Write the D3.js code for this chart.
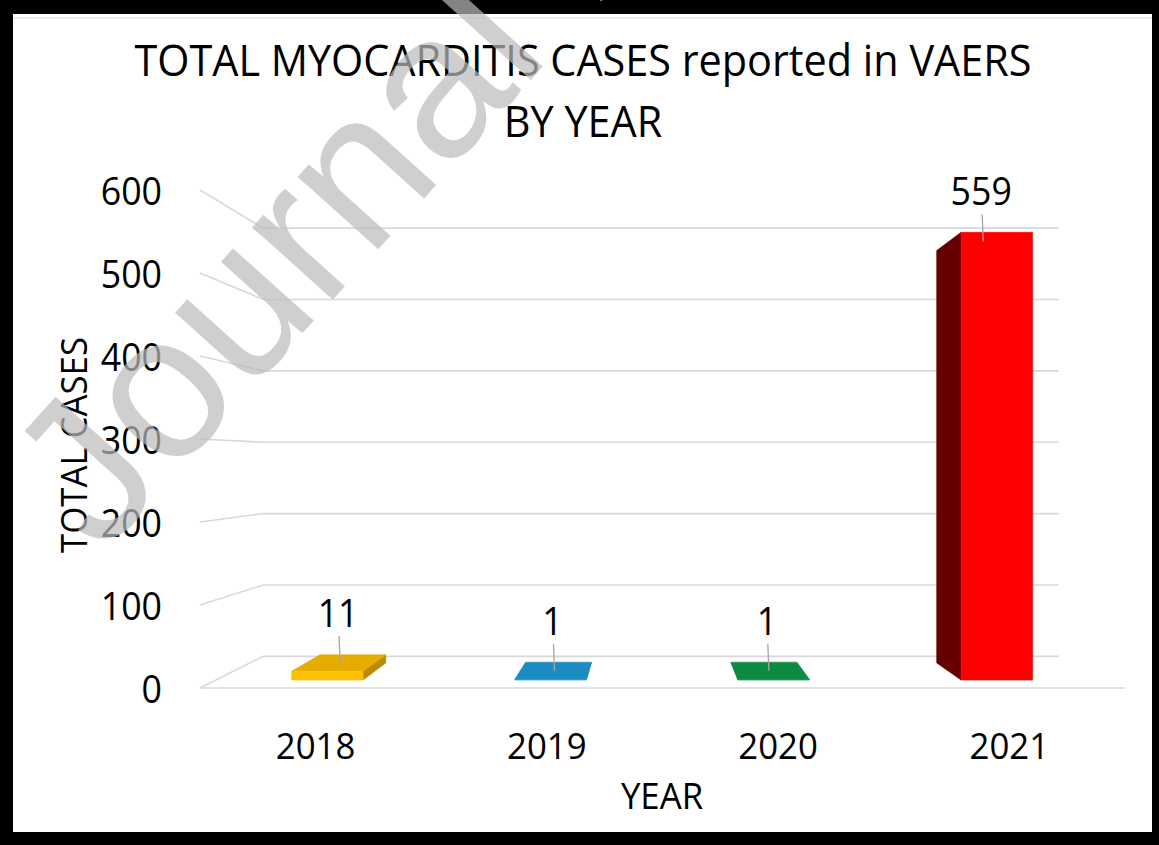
<!DOCTYPE html>
<html>
<head>
<meta charset="utf-8">
<script src="https://cdn.jsdelivr.net/npm/d3@7"></script>
<style>
  html, body { margin: 0; padding: 0; background: #000; }
  svg { display: block; }
  text { font-family: "Open Sans", sans-serif; font-weight: 500; }
</style>
</head>
<body>
<div id="chart"></div>
<script>
const years = ["2018", "2019", "2020", "2021"];
const cases = [11, 1, 1, 559];
const yTicks = [0, 100, 200, 300, 400, 500, 600];
const titleLines = ["TOTAL MYOCARDITIS CASES reported in VAERS", "BY YEAR"];
const xTitle = "YEAR";
const yTitle = "TOTAL CASES";
const watermark = "Journal Pre-proof";

const barColors = ["#FFC000", "#1E9CD8", "#0E9B4B", "#FF0000"];
const gridColor = "#d9d9d9";
const squeeze = 0.94; // narrow the glyphs a bit, the original font is a condensed one

const width = 1159, height = 845;

const svg = d3
  .select("#chart")
  .append("svg")
  .attr("width", width)
  .attr("height", height);

// black frame + white page
svg.append("rect").attr("width", width).attr("height", height).attr("fill", "#000");
svg
  .append("rect")
  .attr("x", 13)
  .attr("y", 14)
  .attr("width", 1139)
  .attr("height", 818)
  .attr("fill", "#fff");
svg
  .append("line")
  .attr("x1", 13)
  .attr("x2", 1152)
  .attr("y1", 18)
  .attr("y2", 18)
  .attr("stroke", "#ececec")
  .attr("stroke-width", 2);

// scales on the front plane of the 3d box
const x = d3
  .scaleBand()
  .domain(years)
  .range([200, 1125])
  .paddingInner(0.68)
  .paddingOuter(0.34);
const y = d3.scaleLinear().domain([0, 600]).range([688, 190]);
const color = d3.scaleOrdinal().domain(years).range(barColors);

// simple perspective: pull a front-plane point towards the vanishing point
const vp = [651, 462];
const kWall = 0.86,
  kBarFront = 0.965,
  kBarBack = 0.889;
const proj = (px, py, k) => [vp[0] + (px - vp[0]) * k, vp[1] + (py - vp[1]) * k];

const [x0, x1] = x.range();

// gridlines on the back wall and the left wall
const grid = svg.append("g").attr("stroke", gridColor).attr("stroke-width", 1.6).attr("fill", "none");
yTicks.forEach((t) => {
  const a = proj(x0, y(t), kWall),
    b = proj(x1, y(t), kWall),
    c = proj(x0, y(t), 1);
  grid.append("path").attr("d", d3.line()([c, a, b]));
});
// front edge of the floor
grid.append("path").attr("d", d3.line()([proj(x0, y(0), 1), proj(x1, y(0), 1)]));

function squeezeText(sel) {
  sel.each(function () {
    const w = this.getComputedTextLength();
    d3.select(this).attr("textLength", w * squeeze).attr("lengthAdjust", "spacingAndGlyphs");
  });
}

// y tick labels
svg
  .append("g")
  .selectAll("text")
  .data(yTicks)
  .join("text")
  .attr("x", 162)
  .attr("y", (d) => y(d) + 15)
  .attr("text-anchor", "end")
  .attr("font-size", 38)
  .text((d) => d)
  .call(squeezeText);

// x tick labels
svg
  .append("g")
  .selectAll("text")
  .data(years)
  .join("text")
  .attr("x", (d) => x(d) + x.bandwidth() / 2)
  .attr("y", 759)
  .attr("text-anchor", "middle")
  .attr("font-size", 37)
  .text((d) => d)
  .call(squeezeText);

// 3d bars
const bars = svg.append("g");
years.forEach((yr, i) => {
  const v = cases[i];
  const xl = x(yr),
    xr = xl + x.bandwidth(),
    yt = y(v),
    yb = y(0);
  const base = d3.color(color(yr));
  const poly = (pts, fill) =>
    bars.append("path").attr("d", d3.line()(pts) + "Z").attr("fill", fill).attr("stroke", fill).attr("stroke-width", 0.6);

  // side face that is turned towards the viewer
  const sx = xr < vp[0] ? xr : xl > vp[0] ? xl : null;
  if (sx !== null) {
    poly(
      [proj(sx, yb, kBarFront), proj(sx, yb, kBarBack), proj(sx, yt, kBarBack), proj(sx, yt, kBarFront)],
      base.darker(i === 3 ? 2.6 : 0.9).toString()
    );
  }
  // top face only shows when the top is under eye level
  if (yt > vp[1]) {
    poly(
      [proj(xl, yt, kBarFront), proj(xr, yt, kBarFront), proj(xr, yt, kBarBack), proj(xl, yt, kBarBack)],
      base.darker(0.3).toString()
    );
  }
  poly(
    [proj(xl, yb, kBarFront), proj(xr, yb, kBarFront), proj(xr, yt, kBarFront), proj(xl, yt, kBarFront)],
    base.toString()
  );

  // data label with leader line
  const tc = proj(xl + x.bandwidth() / 2, yt, (kBarFront + kBarBack) / 2);
  svg
    .append("line")
    .attr("x1", tc[0])
    .attr("x2", tc[0] - 1)
    .attr("y1", tc[1])
    .attr("y2", tc[1] - 27)
    .attr("stroke", "#a6a6a6")
    .attr("stroke-width", 1.3);
  svg
    .append("text")
    .attr("x", tc[0] - 2)
    .attr("y", tc[1] - 36)
    .attr("text-anchor", "middle")
    .attr("font-size", 38)
    .text(v)
    .call(squeezeText);
});

// titles
svg
  .append("g")
  .selectAll("text")
  .data(titleLines)
  .join("text")
  .attr("x", 583)
  .attr("y", (d, i) => 76 + i * 61)
  .attr("text-anchor", "middle")
  .attr("font-size", 44)
  .text((d) => d)
  .call(squeezeText);

svg
  .append("text")
  .attr("x", 662)
  .attr("y", 809)
  .attr("text-anchor", "middle")
  .attr("font-size", 37)
  .text(xTitle)
  .call(squeezeText);

svg
  .append("text")
  .attr("transform", "translate(87,445) rotate(-90)")
  .attr("text-anchor", "middle")
  .attr("font-size", 37)
  .text(yTitle)
  .call(squeezeText);

// watermark on top of everything
svg
  .append("text")
  .attr("transform", "translate(102,556) rotate(-48)")
  .style("font-family", "'Liberation Sans', Arial, sans-serif")
  .style("font-weight", 400)
  .style("fill", "#bcbcbc")
  .attr("font-size", 205)
  .attr("opacity", 0.7)
  .text(watermark);
</script>
</body>
</html>
